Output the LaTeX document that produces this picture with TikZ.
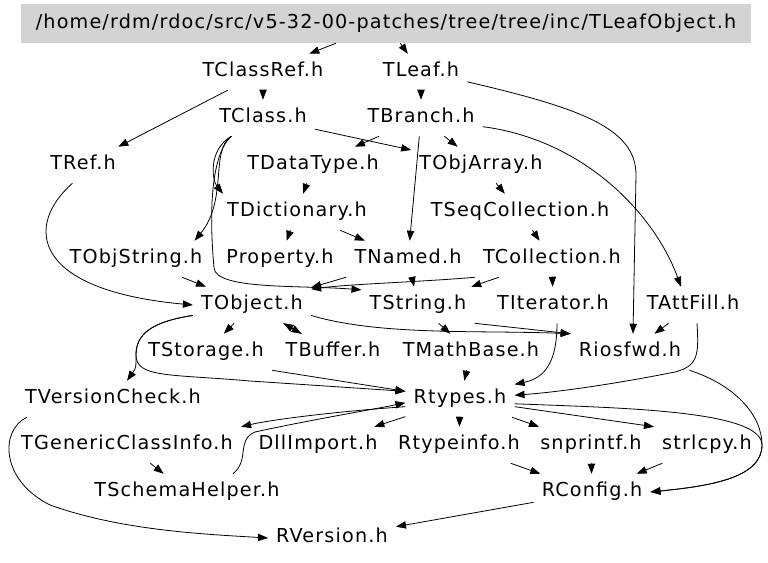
\documentclass[tikz,border=0pt]{standalone}
\usepackage{fontspec}
\setmainfont{DejaVu Sans}[LetterSpace=6]
\usetikzlibrary{arrows.meta}
\usepackage{xcolor}
\definecolor{rootgrey}{HTML}{D3D3D3}

\begin{document}
\begin{tikzpicture}[
        x=0.75pt, y=-0.75pt,
        incfile/.style={inner xsep=6pt, inner ysep=0pt, minimum height=27pt,
          text height=10.9pt, text depth=3.5pt, font=\fontsize{14.4}{17}\selectfont},
        topfile/.style={incfile, fill=rootgrey, minimum width=547.5pt, minimum height=29.25pt},
        dep/.style={-{Triangle[length=7.5pt,width=5.5pt]}, line width=0.6pt, black},
      ]
      \useasboundingbox (0,0) rectangle (768,563);

      % === Files ===
      \node[topfile] (leafobj) at (386,23.5) {/home/rdm/rdoc/src/v5-32-00-patches/tree/tree/inc/TLeafObject.h};

      \node[incfile] (tclassref) at (263,72) {TClassRef.h};
      \node[incfile] (tleaf) at (421,72) {TLeaf.h};

      \node[incfile] (tclass) at (263,118) {TClass.h};
      \node[incfile] (tbranch) at (421,118) {TBranch.h};

      \node[incfile] (tref) at (83,165) {TRef.h};
      \node[incfile] (tdatatype) at (313,165) {TDataType.h};
      \node[incfile] (tobjarray) at (481,165) {TObjArray.h};

      \node[incfile] (tdictionary) at (297,212) {TDictionary.h};
      \node[incfile] (tseqcoll) at (520,212) {TSeqCollection.h};

      \node[incfile] (tobjstring) at (136,259) {TObjString.h};
      \node[incfile] (property) at (280,259) {Property.h};
      \node[incfile] (tnamed) at (408,259) {TNamed.h};
      \node[incfile] (tcollection) at (552,259) {TCollection.h};

      \node[incfile] (tobject) at (252,305) {TObject.h};
      \node[incfile] (tstring) at (418,305) {TString.h};
      \node[incfile] (titerator) at (553,305) {TIterator.h};
      \node[incfile] (tattfill) at (693,305) {TAttFill.h};

      \node[incfile] (tstorage) at (206,352) {TStorage.h};
      \node[incfile] (tbuffer) at (333,352) {TBuffer.h};
      \node[incfile] (tmathbase) at (471,352) {TMathBase.h};
      \node[incfile] (riosfwd) at (630,352) {Riosfwd.h};

      \node[incfile] (tversioncheck) at (113,399) {TVersionCheck.h};
      \node[incfile] (rtypes) at (460,399) {Rtypes.h};

      \node[incfile] (tgenericci) at (127,445) {TGenericClassInfo.h};
      \node[incfile] (dllimport) at (318,445) {DllImport.h};
      \node[incfile] (rtypeinfo) at (459,445) {Rtypeinfo.h};
      \node[incfile] (snprintf) at (591,445) {snprintf.h};
      \node[incfile] (strlcpy) at (707,445) {strlcpy.h};

      \node[incfile] (tschemahelper) at (187,492) {TSchemaHelper.h};
      \node[incfile] (rconfig) at (592,492) {RConfig.h};

      \node[incfile] (rversion) at (332,538) {RVersion.h};

      % === Includes ===
      \draw[dep] (leafobj) -- (tclassref);
      \draw[dep] (leafobj) -- (tleaf);
      \draw[dep] (tclassref) -- (tclass);
      \draw[dep] (tclassref) -- (tref);
      \draw[dep] (tleaf) -- (tbranch);
      \draw[dep] (tleaf.-12) .. controls (580,108) and (636,128) .. (636,175)
        -- ([xshift=2.25pt]riosfwd.north);

      \draw[dep] (tbranch) -- (tdatatype);
      \draw[dep] (tbranch) -- (tobjarray);
      \draw[dep] (tbranch) -- (tnamed);
      \draw[dep] (tbranch.-8) .. controls (585,140) and (655,215) .. ([xshift=-9pt]tattfill.north);

      \draw[dep] (tclass) -- (tobjarray);
      \draw[dep] (tclass.210) .. controls (208,150) and (212,180) .. ([xshift=3pt]tdictionary.north west);
      \draw[dep] (tclass.210) .. controls (210,150) and (228,200) .. ([xshift=-12pt]tobjstring.north east);
      \draw[dep] (tclass.210) .. controls (205,160) and (212,245) .. (214,268)
        .. controls (216,290) and (300,285) .. (tstring.165);

      \draw[dep] (tdatatype) -- (tdictionary);
      \draw[dep] (tdictionary) -- (property);
      \draw[dep] (tdictionary) -- (tnamed);
      \draw[dep] (tobjarray) -- (tseqcoll);
      \draw[dep] (tseqcoll) -- (tcollection);

      \draw[dep] (tcollection.south west) .. controls (420,282) and (350,284) .. (tobject.15);
      \draw[dep] (tcollection) -- (tstring);
      \draw[dep] (tcollection) -- (titerator);
      \draw[dep] (tnamed) -- (tobject);
      \draw[dep] (tnamed) -- (tstring);
      \draw[dep] (tobjstring) -- (tobject);
      \draw[dep] (tref.-120) .. controls (25,225) and (30,290) .. (tobject.west);

      \draw[dep] (tobject) -- (tstorage);
      \draw[dep] (tobject) -- (tbuffer);
      \draw[dep] (tbuffer) -- (tobject);
      \draw[dep] (tobject.190) .. controls (150,322) and (136,335) .. (136,355)
        .. controls (136,368) .. ([xshift=10.5pt]tversioncheck.north);
      \draw[dep] (tobject.190) .. controls (150,322) and (136,335) .. (136,355)
        .. controls (136,378) and (170,374) .. (250,381) -- (rtypes.172);
      \draw[dep] (tobject.-10) .. controls (380,336) and (480,330) .. (riosfwd.north west);
      \draw[dep] (tstring) -- (tmathbase);
      \draw[dep] (tstring.south east) -- (riosfwd.north west);
      \draw[dep] (tstorage.south east) -- (rtypes.172);

      \draw[dep] ([xshift=3pt]titerator.south) .. controls (557,362) and (545,378) .. (rtypes.15);
      \draw[dep] (tattfill) -- (riosfwd);
      \draw[dep] ([xshift=3pt]tattfill.south) .. controls (699,355) and (698,366) .. (675,372)
        .. controls (620,383) and (560,392) .. (rtypes.4);
      \draw[dep] (tmathbase) -- (rtypes);
      \draw[dep] (riosfwd.south east) .. controls (735,385) and (762,415) .. (762,445)
        .. controls (762,478) and (710,486) .. (rconfig.east);

      \draw[dep] (rtypes.-5) .. controls (620,408) and (762,410) .. (762,445)
        .. controls (762,478) and (710,486) .. (rconfig.east);
      \draw[dep] (rtypes.-8) -- (strlcpy.north west);
      \draw[dep] (rtypes) -- (snprintf);
      \draw[dep] (rtypes) -- (rtypeinfo);
      \draw[dep] (rtypes) -- (dllimport);
      \draw[dep] (rtypes.188) .. controls (330,412) and (270,420) .. (tgenericci.north east);
      \draw[dep] ([xshift=34.5pt]tschemahelper.north) .. controls (250,460) and (236,440) .. (255,432)
        .. controls (310,420) and (370,410) .. (rtypes.184);
      \draw[dep] (tgenericci) -- (tschemahelper);

      \draw[dep] ([xshift=7.5pt]tversioncheck.south west) .. controls (0,430) and (0,480) .. (50,505)
        .. controls (120,530) and (200,534) .. (rversion.west);
      \draw[dep] (rtypeinfo) -- (rconfig);
      \draw[dep] (snprintf) -- (rconfig);
      \draw[dep] (strlcpy) -- (rconfig);
      \draw[dep] (rconfig) -- (rversion);

\end{tikzpicture}
\end{document}
